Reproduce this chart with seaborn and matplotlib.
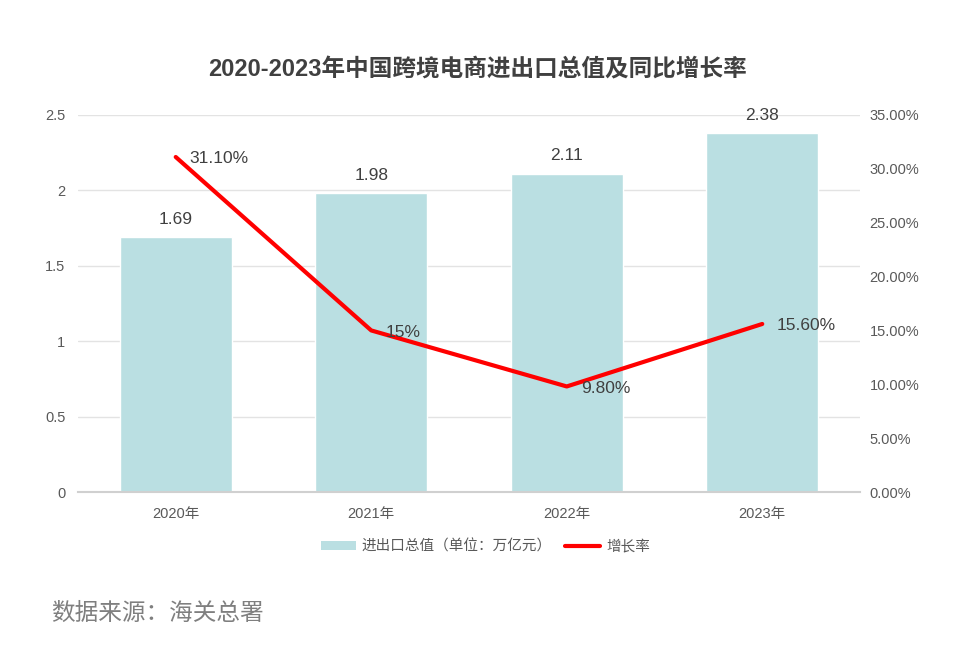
import matplotlib
matplotlib.use("Agg")
import matplotlib.pyplot as plt
import seaborn as sns
import pandas as pd
from matplotlib.patches import Patch
from matplotlib.lines import Line2D
from matplotlib.ticker import FuncFormatter, MultipleLocator

years = ["2020年", "2021年", "2022年", "2023年"]
totals = [1.69, 1.98, 2.11, 2.38]
growth = [31.10, 15.00, 9.80, 15.60]
growth_labels = ["31.10%", "15%", "9.80%", "15.60%"]
title = "2020-2023年中国跨境电商进出口总值及同比增长率"
bar_name = "进出口总值（单位：万亿元）"
line_name = "增长率"
source = "数据来源：海关总署"

sns.set_theme(style="white")
FONTS = ["Liberation Sans", "Noto Sans CJK SC", "DejaVu Sans"]
plt.rcParams["font.family"] = FONTS

df = pd.DataFrame({"year": years, "total": totals, "growth": growth})

fig = plt.figure(figsize=(9.71, 6.57), dpi=100)
ax = fig.add_axes([0.0803, 0.2511, 0.8054, 0.5739])

BAR_COLOR = "#BADFE2"
sns.barplot(data=df, x="year", y="total", color=BAR_COLOR, width=0.575,
            saturation=1, ax=ax, zorder=2)
ax.set_xlim(-0.5, 3.5)
ax.set_ylim(0, 2.5)
ax.yaxis.set_major_locator(MultipleLocator(0.5))
ax.yaxis.set_major_formatter(FuncFormatter(lambda v, p: f"{v:g}"))
ax.grid(axis="y", color="#E3E3E3", linewidth=1, zorder=0)
ax.set_axisbelow(True)
for s in ["top", "right", "left"]:
    ax.spines[s].set_visible(False)
ax.spines["bottom"].set_color("#D0D0D0")
ax.spines["bottom"].set_linewidth(1.5)
ax.set_xlabel("")
ax.set_ylabel("")
ax.tick_params(axis="x", length=0, labelsize=10.5, labelcolor="#595959", pad=11)
ax.tick_params(axis="y", length=0, labelsize=10.5, labelcolor="#595959", pad=9)
for c in ax.containers:
    ax.bar_label(c, labels=[f"{v:.2f}" for v in totals], padding=7.5,
                 fontsize=12.5, color="#404040")

ax2 = ax.twinx()
sns.pointplot(data=df, x="year", y="growth", color="#FF0000", markers="",
              linestyles="-", linewidth=3, ax=ax2, errorbar=None)
ax2.set_xlim(-0.5, 3.5)
ax2.set_ylim(0, 35)
ax2.yaxis.set_major_locator(MultipleLocator(5))
ax2.yaxis.set_major_formatter(FuncFormatter(lambda v, p: f"{v:.2f}%"))
for s in ["top", "right", "left", "bottom"]:
    ax2.spines[s].set_visible(False)
ax2.set_ylabel("")
ax2.set_xlabel("")
ax2.tick_params(axis="y", length=0, labelsize=10.5, labelcolor="#595959", pad=7)
ax2.grid(False)
for i, (g, lab) in enumerate(zip(growth, growth_labels)):
    ax2.annotate(lab, xy=(i, g), xytext=(10, -1.2), textcoords="offset points",
                 ha="left", va="center", fontsize=12.5, color="#404040")

fig.text(0.492, 0.893, title, ha="center", va="center", fontsize=17,
         fontweight="bold", color="#404040")

handles = [Patch(facecolor=BAR_COLOR, edgecolor="none"),
           Line2D([0], [0], color="#FF0000", linewidth=3)]
fig.legend(handles, [bar_name, line_name], loc="center",
           bbox_to_anchor=(0.5, 0.168), ncol=2, frameon=False, fontsize=10.5,
           labelcolor="#595959", handlelength=2.4, handleheight=0.6,
           columnspacing=0.9, handletextpad=0.4)

fig.text(0.053, 0.066, source, ha="left", va="center", fontsize=17,
         color="#7F7F7F", family=["Noto Sans CJK SC", "DejaVu Sans"])

fig.savefig("out.png", dpi=100)
